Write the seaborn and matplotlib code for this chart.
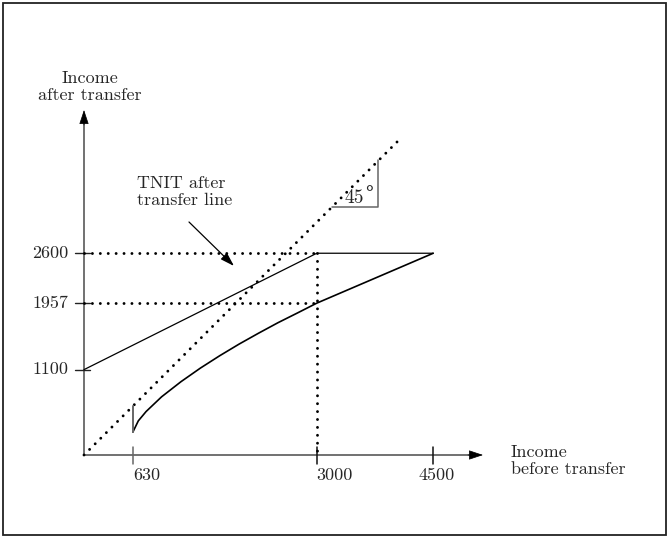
import numpy as np
import pandas as pd
import matplotlib
matplotlib.use("Agg")
import matplotlib.pyplot as plt
import seaborn as sns
from matplotlib.patches import Rectangle

# ---- data ----
x_ticks = [630, 3000, 4500]
y_ticks = [1100, 1957, 2600]
x_tick_labels = ["630", "3000", "4500"]
y_tick_labels = ["1100", "1957", "2600"]

# upper (TNIT after-transfer) line
upper_x = [0, 3000, 4500]
upper_y = [1100, 2600, 2600]

# lower after-transfer schedule
lower_x = [630, 700, 800, 1000, 1250, 1500, 1750, 2000, 2250, 2500, 2750, 3000, 4500]
lower_y = [296, 440, 560, 750, 945, 1120, 1280, 1430, 1570, 1705, 1830, 1957, 2600]

# jump at 630
jump_x = [630, 630]
jump_y = [296, 630]

# 45 degree line
diag_x = [0, 4050]
diag_y = [0, 4050]

sns.set_theme(style="white")
plt.rcParams["font.family"] = ["cmr10", "DejaVu Serif"]
plt.rcParams["mathtext.fontset"] = "cm"
plt.rcParams["axes.formatter.use_mathtext"] = True

W, H = 667, 537
fig = plt.figure(figsize=(W / 100, H / 100), dpi=100)
ax = fig.add_axes([0, 0, 1, 1])
ax.set_axis_off()

s = 0.0776
ox, oy = 84, 455
ax.set_xlim(-ox / s, (W - ox) / s)
ax.set_ylim(-(H - oy) / s, oy / s)

def px(dx):
    return dx / s

axis_col = "#666666"
fs = 13

# frame
fig.patches.append(Rectangle((2.5 / W, 2 / H), (W - 4) / W, (H - 5) / H,
                             transform=fig.transFigure, fill=False,
                             edgecolor="#222222", lw=1.3))

# axes lines
ax.plot([0, 0], [0, px(455 - 113)], color=axis_col, lw=1.3, solid_capstyle="butt")
ax.plot([0, px(480 - 84)], [0, 0], color=axis_col, lw=1.3, solid_capstyle="butt")
ahead = dict(arrowstyle="-|>,head_length=0.75,head_width=0.25", color="black", lw=0.5,
             shrinkA=0, shrinkB=0)
ax.annotate("", xy=(0, px(455 - 110)), xytext=(0, px(455 - 125)), arrowprops=ahead)
ax.annotate("", xy=(px(483 - 84), 0), xytext=(px(468 - 84), 0), arrowprops=ahead)

# ticks
for yt in y_ticks:
    ax.plot([px(-9), px(6)], [yt, yt], color="#222222", lw=1.0)
for xt in x_ticks:
    c = axis_col if xt == 630 else "#111111"
    ax.plot([xt, xt], [px(-9), px(8)], color=c, lw=1.1)

# tick labels
for yt, lab in zip(y_ticks, y_tick_labels):
    ax.text(px(68 - 84), yt, lab, ha="right", va="center", fontsize=fs)
x_lab_off = [14, 18, 3]
for xt, lab, off in zip(x_ticks, x_tick_labels, x_lab_off):
    ax.text(xt + px(off), px(455 - 475), lab, ha="center", va="center", fontsize=fs)

# dotted guide lines
dot = dict(color="black", lw=2.1, linestyle=(0, (0.01, 2.7)), dash_capstyle="round")
sns.lineplot(x=diag_x, y=diag_y, ax=ax, estimator=None, sort=False, **dot)
ax.plot([0, 3000], [2600, 2600], **dot)
ax.plot([0, 3000], [1957, 1957], **dot)
ax.plot([3000, 3000], [2600, 0], **dot)

# solid schedule lines
sns.lineplot(x=upper_x, y=upper_y, ax=ax, color="black", lw=0.9, sort=False, estimator=None)
sns.lineplot(x=lower_x, y=lower_y, ax=ax, color="black", lw=1.2, sort=False, estimator=None)
sns.lineplot(x=jump_x, y=jump_y, ax=ax, color=axis_col, lw=1.4, sort=False, estimator=None)

# 45 degree triangle
ty = px(455 - 207)
tx2 = px(378 - 84)
ax.plot([ty, tx2, tx2], [ty, ty, px(455 - 160)], color=axis_col, lw=1.1)
ax.text(px(364 - 84), px(455 - 198), "45", ha="right", va="center", fontsize=fs + 1)
ax.text(px(364 - 84), px(455 - 194), "\u00b0", ha="left", va="center", fontsize=fs + 1,
        family="DejaVu Serif")

# labels
ax.text(px(90 - 84), px(455 - 87), "Income\nafter transfer", ha="center", va="center",
        fontsize=fs, linespacing=1.1)
ax.text(px(511 - 84), px(455 - 461), "Income\nbefore transfer", ha="left", va="center",
        fontsize=fs, linespacing=1.1)
ax.text(px(137 - 84), px(455 - 192), "TNIT after\ntransfer line", ha="left", va="center",
        fontsize=fs, linespacing=1.1)
ax.annotate("", xy=(px(234 - 84), px(455 - 266)), xytext=(px(189 - 84), px(455 - 222)),
            arrowprops=dict(arrowstyle="-|>,head_length=0.7,head_width=0.22",
                            color="black", lw=0.9, shrinkA=0, shrinkB=0))

if ax.get_legend() is not None:
    ax.get_legend().remove()

fig.savefig("out.png", dpi=100)
